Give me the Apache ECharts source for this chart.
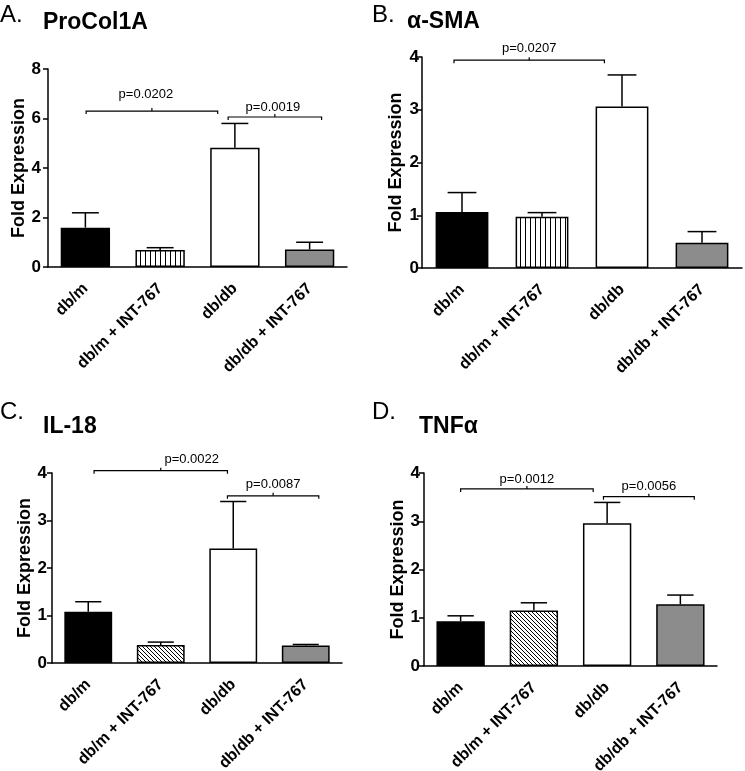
<!DOCTYPE html>
<html>
<head>
<meta charset="utf-8">
<script src="https://cdn.jsdelivr.net/npm/echarts@6/dist/echarts.min.js"></script>
<style>html,body{margin:0;padding:0;background:#fff;overflow:hidden}#c{width:745px;height:771px}</style>
</head>
<body>
<div id="c"></div>
<script>
// ---------- data ----------
const categories = ['db/m', 'db/m + INT-767', 'db/db', 'db/db + INT-767'];
const panelLetters = ['A.', 'B.', 'C.', 'D.'];
const panelTitles = ['ProCol1A', 'α-SMA', 'IL-18', 'TNFα'];
const yAxisName = 'Fold Expression';

const procolMean = [1.59, 0.69, 4.82, 0.71];
const procolSem  = [0.60, 0.09, 0.98, 0.29];
const smaMean    = [1.06, 0.97, 3.06, 0.48];
const smaSem     = [0.37, 0.08, 0.60, 0.21];
const il18Mean   = [1.08, 0.38, 2.41, 0.37];
const il18Sem    = [0.21, 0.06, 0.99, 0.02];
const tnfMean    = [0.93, 1.15, 2.96, 1.28];
const tnfSem     = [0.11, 0.16, 0.43, 0.19];

const yMaxes = [8, 4, 4, 4];
const yIntervals = [2, 1, 1, 1];

// significance brackets: [fromCategory, toCategory, height (fold), p label]
const procolBrackets = [[0, 2, 6.3, 'p=0.0202'], [2, 3, 6.06, 'p=0.0019']];
const smaBrackets    = [[0, 2, 3.94, 'p=0.0207']];
const il18Brackets   = [[0, 2, 4.05, 'p=0.0022'], [2, 3, 3.52, 'p=0.0087']];
const tnfBrackets    = [[0, 2, 3.67, 'p=0.0012'], [2, 3, 3.51, 'p=0.0056']];

// ---------- layout (px / band fractions) ----------
const grids = [
  {left: 48, top: 69, width: 299, height: 198, labelMargin: 7},
  {left: 422, top: 57, width: 320, height: 211, labelMargin: 3},
  {left: 52, top: 473, width: 290, height: 190, labelMargin: 5},
  {left: 424, top: 473, width: 293, height: 193, labelMargin: 4}
];
// per bracket: [start offset (bands), end offset (bands), label dx px, label gap px]
const bracketLayout = [
  [[0.01, -0.23, -6, 10], [-0.09, 0.16, -2, 3]],
  [[-0.10, -0.22, 0, 5]],
  [[0.08, -0.08, 31, 5], [-0.08, 0.18, 0, 5]],
  [[0.0, -0.19, 0, 3], [-0.05, 0.19, 0, 4]]
];
const letterPos = [[0, 3], [372, 3], [0, 400], [372, 400]];
const titlePos = [[43, 11], [407, 10], [43, 415], [419, 415]];

const FONT = 'Liberation Sans, Arial, Helvetica, sans-serif';

function stripeCanvas(kind) {
  const cv = document.createElement('canvas');
  const s = kind === 'vertical' ? 5 : 4;
  cv.width = s; cv.height = s;
  const g = cv.getContext('2d');
  g.fillStyle = '#fff'; g.fillRect(0, 0, s, s);
  g.strokeStyle = '#000'; g.lineWidth = 1;
  g.beginPath();
  if (kind === 'vertical') {
    g.moveTo(0.5, 0); g.lineTo(0.5, s);
  } else {
    for (const o of [-s, 0, s]) { g.moveTo(o, 0); g.lineTo(o + s, s); }
  }
  g.stroke();
  return cv;
}

const means = [procolMean, smaMean, il18Mean, tnfMean];
const sems = [procolSem, smaSem, il18Sem, tnfSem];
const brackets = [procolBrackets, smaBrackets, il18Brackets, tnfBrackets];
const patternKinds = ['vertical', 'vertical', 'diagonal', 'diagonal'];

const option = {
  animation: false,
  backgroundColor: '#fff',
  textStyle: {fontFamily: FONT, color: '#000'},
  grid: [], xAxis: [], yAxis: [], series: [], graphic: []
};

for (let i = 0; i < 4; i++) {
  const gr = grids[i];
  option.grid.push({left: gr.left, top: gr.top, width: gr.width, height: gr.height, containLabel: false, outerBoundsMode: 'none'});
  option.xAxis.push({
    type: 'category', gridIndex: i, data: categories,
    axisLine: {lineStyle: {color: '#000', width: 1.5}},
    axisTick: {alignWithLabel: true, length: 5, lineStyle: {color: '#000', width: 1.5}},
    axisLabel: {rotate: 45, margin: 19, color: '#000', fontWeight: 'bold', fontSize: 16, fontFamily: FONT, interval: 0,
      hideOverlap: false}
  });
  option.yAxis.push({
    type: 'value', gridIndex: i, min: 0, max: yMaxes[i], interval: yIntervals[i],
    name: yAxisName, nameLocation: 'middle', nameGap: 17,
    nameTextStyle: {color: '#000', fontWeight: 'bold', fontSize: 18, fontFamily: FONT},
    axisLine: {show: true, lineStyle: {color: '#000', width: 1.5}},
    axisTick: {show: true, length: 5, lineStyle: {color: '#000', width: 1.5}},
    axisLabel: {color: '#000', fontWeight: 'bold', fontSize: 17, fontFamily: FONT, margin: gr.labelMargin},
    splitLine: {show: false}
  });
  const pattern = {image: stripeCanvas(patternKinds[i]), repeat: 'repeat'};
  const fills = ['#000', pattern, '#fff', '#8c8c8c'];
  option.series.push({
    type: 'bar', xAxisIndex: i, yAxisIndex: i, barWidth: '66%',
    data: means[i].map((v, k) => ({value: v, itemStyle: {color: fills[k], borderColor: '#000', borderWidth: 1.5}})),
    z: 2
  });
  // error bars (upper SEM)
  option.series.push({
    type: 'custom', xAxisIndex: i, yAxisIndex: i, z: 3,
    data: means[i].map((m, k) => [k, m, m + sems[i][k]]),
    encode: {x: 0, y: [1, 2]},
    renderItem: function (params, api) {
      const p0 = api.coord([api.value(0), api.value(1)]);
      const p1 = api.coord([api.value(0), api.value(2)]);
      const band = api.size([1, 0])[0];
      const hw = band * 0.18;
      const st = {stroke: '#000', lineWidth: 1.5};
      return {type: 'group', children: [
        {type: 'line', shape: {x1: p0[0], y1: p0[1], x2: p1[0], y2: p1[1]}, style: st},
        {type: 'line', shape: {x1: p1[0] - hw, y1: p1[1], x2: p1[0] + hw, y2: p1[1]}, style: st}
      ]};
    }
  });
  // significance brackets
  const bl = bracketLayout[i];
  option.series.push({
    type: 'custom', xAxisIndex: i, yAxisIndex: i, z: 4, clip: false,
    data: brackets[i].map((b, k) => [b[0], b[1], b[2], k]),
    encode: {x: [0, 1], y: 2},
    renderItem: function (params, api) {
      const k = api.value(3);
      const lay = bl[k];
      const band = api.size([1, 0])[0];
      const a = api.coord([api.value(0), api.value(2)]);
      const b = api.coord([api.value(1), api.value(2)]);
      const x0 = a[0] + lay[0] * band, x1 = b[0] + lay[1] * band, y = a[1];
      const xm = (x0 + x1) / 2;
      const st = {stroke: '#000', lineWidth: 1.2, fill: null};
      return {type: 'group', children: [
        {type: 'polyline', shape: {points: [[x0, y + 3], [x0, y], [x1, y], [x1, y + 3]]}, style: st},
        {type: 'line', shape: {x1: xm, y1: y, x2: xm, y2: y - 3}, style: st},
        {type: 'text', style: {text: brackets[i][k][3], x: xm + lay[2], y: y - lay[3],
          textAlign: 'center', textVerticalAlign: 'bottom', fill: '#000', font: '13px ' + FONT}}
      ]};
    }
  });
  option.graphic.push({type: 'text', left: letterPos[i][0], top: letterPos[i][1],
    style: {text: panelLetters[i], fill: '#000', font: 'normal 24px ' + FONT}});
  option.graphic.push({type: 'text', left: titlePos[i][0], top: titlePos[i][1],
    style: {text: panelTitles[i], fill: '#000', font: 'bold 23px ' + FONT}});
}

const chart = echarts.init(document.getElementById('c'), null, {renderer: 'canvas'});
chart.setOption(option);
</script>
</body>
</html>
